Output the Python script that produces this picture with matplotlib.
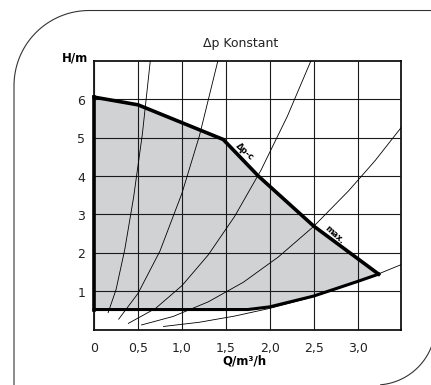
import matplotlib.pyplot as plt
import numpy as np

plt.rcParams['font.family'] = ['DejaVu Sans']

# working field, upper edge (dp-c / max) and lower edge (min)
q_top = [0.0, 0.5, 1.47, 1.87, 2.5, 3.24]
h_top = [6.05, 5.85, 4.95, 4.0, 2.7, 1.45]
q_low = [0.0, 1.75, 2.0, 2.5, 3.0, 3.24]
h_low = [0.53, 0.53, 0.6, 0.88, 1.26, 1.45]

# system curves
qa = [0.16, 0.25, 0.35, 0.45, 0.55, 0.64]
ha = [0.45, 1.05, 2.1, 3.45, 5.1, 7.0]
qb = [0.28, 0.5, 0.75, 1.0, 1.2, 1.41]
hb = [0.28, 0.95, 2.05, 3.55, 5.05, 7.0]
qc = [0.39, 0.7, 1.0, 1.3, 1.6, 1.9, 2.2, 2.47]
hc = [0.17, 0.56, 1.15, 1.95, 2.95, 4.15, 5.55, 7.0]
qd = [0.54, 0.9, 1.3, 1.7, 2.1, 2.5, 2.9, 3.2, 3.5]
hd = [0.13, 0.35, 0.73, 1.24, 1.9, 2.69, 3.62, 4.4, 5.27]
qe = [0.79, 1.2, 1.6, 2.0, 2.4, 2.8, 3.2, 3.5]
he = [0.09, 0.2, 0.36, 0.56, 0.8, 1.09, 1.42, 1.7]

xticks = [0, 0.5, 1.0, 1.5, 2.0, 2.5, 3.0]
xlabels = ['0', '0,5', '1,0', '1,5', '2,0', '2,5', '3,0']
yticks = [1, 2, 3, 4, 5, 6]

fig = plt.figure(figsize=(4.315, 3.855), dpi=100)

# rounded frame around the whole thing (pixel coords, y downwards)
bg = fig.add_axes([0, 0, 1, 1], zorder=-1)
bg.set_xlim(0, 431)
bg.set_ylim(385, 0)
bg.axis('off')
fc = '#333333'
t1 = np.radians(np.linspace(180, 270, 40))
bg.plot(np.r_[14, 89 + 75 * np.cos(t1), 432],
        np.r_[386, 86 + 75 * np.sin(t1), 11], color=fc, lw=0.8)
t2 = np.radians(np.linspace(20, 85, 30))
bg.plot(375 + 60 * np.cos(t2), 325 + 60 * np.sin(t2), color=fc, lw=0.8)

ax = fig.add_axes([94 / 431, 55 / 385, 307 / 431, 269 / 385])
ax.set_xlim(0, 3.5)
ax.set_ylim(0, 7)

ax.fill(q_top + q_low[::-1], h_top + h_low[::-1], color='#d1d2d4', lw=0, zorder=1)

ax.set_xticks(xticks)
ax.set_xticklabels(xlabels)
ax.set_yticks(yticks)
ax.tick_params(length=0, labelsize=9, colors='#222222')
ax.tick_params(axis='x', pad=8)
ax.tick_params(axis='y', pad=6.5)
ax.grid(True, color='#1a1a1a', lw=0.8, zorder=2)
ax.set_axisbelow(False)
for s in ax.spines.values():
    s.set_linewidth(1.2)
    s.set_color('black')

for q, h in [(qa, ha), (qb, hb), (qc, hc), (qd, hd), (qe, he)]:
    ax.plot(q, h, color='black', lw=0.6, zorder=3)

ax.plot(q_top, h_top, color='black', lw=2.6, zorder=4, clip_on=False,
        solid_joinstyle='miter')
ax.plot([0, 0], [h_low[0], h_top[0]], color='black', lw=2.6, zorder=4, clip_on=False)
ax.plot(q_low, h_low, color='black', lw=2.2, zorder=4, clip_on=False)

ax.text(1.72, 4.64, 'Δp-c', rotation=-42, fontsize=6, fontweight='bold',
        ha='center', va='center', rotation_mode='anchor', zorder=5)
ax.text(2.74, 2.48, 'max.', rotation=-42, fontsize=6, fontweight='bold',
        ha='center', va='center', rotation_mode='anchor', zorder=5)

ax.text(0.477, 1.04, 'Δp Konstant', transform=ax.transAxes, ha='center',
        va='bottom', fontsize=9, color='#222222')
ax.text(-0.02, 0.997, 'H/m', transform=ax.transAxes, ha='right', va='baseline',
        fontsize=8.5, fontweight='bold')
ax.text(0.489, -0.115, 'Q/m³/h', transform=ax.transAxes, ha='center',
        va='center', fontsize=8.5, fontweight='bold')

fig.savefig('out.png', dpi=100)
